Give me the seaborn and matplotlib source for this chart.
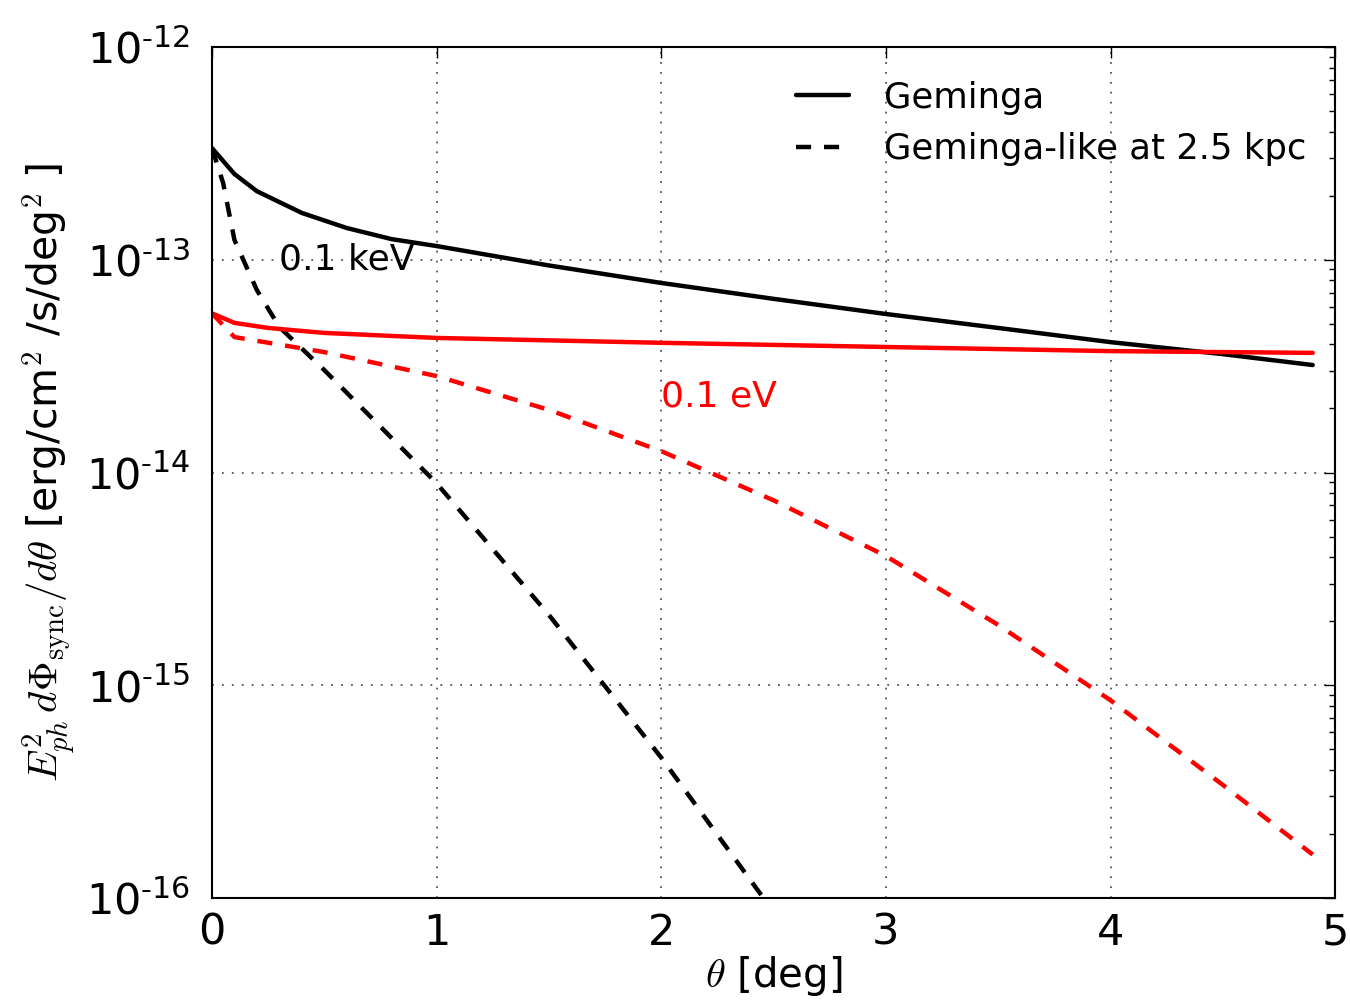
import numpy as np
import pandas as pd
import matplotlib
matplotlib.use("Agg")
import matplotlib.pyplot as plt
import seaborn as sns
from matplotlib.ticker import FuncFormatter, LogLocator, NullFormatter

# ---- data ----
theta_gem_solid = [0.0, 0.1, 0.2, 0.4, 0.6, 0.8, 1.0, 1.5, 2.0, 2.5, 3.0, 3.5, 4.0, 4.5, 4.9]
flux_gem_kev = [3.35e-13, 2.53e-13, 2.1e-13, 1.66e-13, 1.41e-13, 1.25e-13, 1.16e-13, 9.4e-14,
                7.78e-14, 6.55e-14, 5.56e-14, 4.78e-14, 4.1e-14, 3.6e-14, 3.2e-14]

theta_gem_ev = [0.0, 0.1, 0.25, 0.5, 1.0, 2.0, 3.0, 4.0, 4.9]
flux_gem_ev = [5.6e-14, 5.05e-14, 4.78e-14, 4.53e-14, 4.29e-14, 4.07e-14, 3.89e-14, 3.72e-14, 3.65e-14]

theta_far_kev = [0.0, 0.05, 0.1, 0.2, 0.3, 0.5, 1.0, 1.5, 2.0, 2.5]
flux_far_kev = [3.35e-13, 2.29e-13, 1.24e-13, 7.2e-14, 4.83e-14, 3.03e-14, 8.9e-15, 2.14e-15,
                4.57e-16, 8.6e-17]

theta_far_ev = [0.0, 0.1, 0.5, 1.0, 1.5, 2.0, 2.5, 3.0, 3.5, 4.0, 4.5, 4.9]
flux_far_ev = [5.6e-14, 4.33e-14, 3.68e-14, 2.84e-14, 1.97e-14, 1.26e-14, 7.4e-15, 4.05e-15,
               1.92e-15, 8.5e-16, 3.4e-16, 1.6e-16]

legend_labels = ["Geminga", "Geminga-like at 2.5 kpc"]
annot_kev = "0.1 keV"
annot_ev = "0.1 eV"

sns.set_style("white")
plt.rcParams["font.family"] = ["DejaVu Sans"]
plt.rcParams["mathtext.fontset"] = "cm"
plt.rcParams["text.color"] = "black"
plt.rcParams["axes.labelcolor"] = "black"
plt.rcParams["xtick.color"] = "black"
plt.rcParams["ytick.color"] = "black"

fig = plt.figure(figsize=(13.5, 10), dpi=100)
ax = fig.add_axes([0.157, 0.102, 0.832, 0.851])

lw = 3.2
dash = (0, (3.4, 2.9))
sns.lineplot(x=theta_gem_solid, y=flux_gem_kev, ax=ax, color="black", lw=lw, label=legend_labels[0])
sns.lineplot(x=theta_far_kev, y=flux_far_kev, ax=ax, color="black", lw=lw, linestyle=dash,
             label=legend_labels[1])
sns.lineplot(x=theta_gem_ev, y=flux_gem_ev, ax=ax, color="red", lw=lw)
sns.lineplot(x=theta_far_ev, y=flux_far_ev, ax=ax, color="red", lw=lw, linestyle=dash)

ax.set_yscale("log")
ax.set_xlim(0, 5)
ax.set_ylim(1e-16, 1e-12)

ax.yaxis.set_major_locator(LogLocator(base=10, numticks=10))
ax.yaxis.set_minor_locator(LogLocator(base=10, subs=np.arange(2, 10), numticks=100))
ax.yaxis.set_minor_formatter(NullFormatter())
ax.yaxis.set_major_formatter(FuncFormatter(
    lambda v, p: r"$\mathregular{10^{\text{-}%d}}$" % abs(int(round(np.log10(v))))))

ax.tick_params(which="both", direction="in", top=True, right=True, colors="black")
ax.tick_params(which="major", length=8, width=1, labelsize=31)
ax.tick_params(axis="y", which="major", pad=16)
ax.tick_params(axis="x", which="major", pad=10)
ax.tick_params(which="minor", length=4, width=1)
for s in ax.spines.values():
    s.set_color("black")
    s.set_linewidth(1.5)

ax.grid(True, which="major", linestyle=(0, (1, 4.5)), color="#555555", linewidth=1.3)

ax.set_xlabel(r"$\theta$ [deg]", fontsize=29, labelpad=0)
ax.set_ylabel(r"$E^2_{ph}\, d\Phi_{\rm sync}/d\theta$ [erg/cm$^2$ /s/deg$^2$ ]", fontsize=29.5, labelpad=6)

ax.text(0.30, 1.0e-13, annot_kev, fontsize=26, color="black", va="center", ha="left")
ax.text(2.0, 2.27e-14, annot_ev, fontsize=26, color="red", va="center", ha="left")

leg = ax.legend(loc="upper right", bbox_to_anchor=(1.006, 1.002), frameon=False, fontsize=25.5,
                handlelength=1.5, handletextpad=1.0, borderaxespad=0.6, labelspacing=0.5)
for t in leg.get_texts():
    t.set_color("black")

fig.savefig("out.png", dpi=100)
